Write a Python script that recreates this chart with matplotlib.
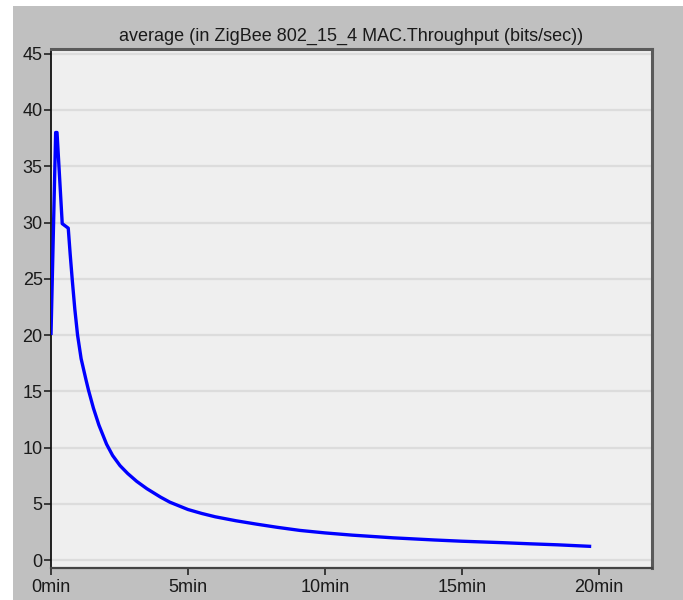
import matplotlib
matplotlib.use("Agg")
import matplotlib.pyplot as plt
from matplotlib.patches import Rectangle
from matplotlib.ticker import FuncFormatter

# Data (time in minutes, average throughput in bits/sec)
time_min = [0.0, 0.17, 0.22, 0.41, 0.63, 0.70, 0.78, 0.87, 0.97, 1.10, 1.28, 1.37,
            1.55, 1.75, 2.03, 2.25, 2.52, 2.80, 3.13, 3.50, 4.00, 4.34, 5.00, 5.50,
            6.00, 6.75, 7.50, 8.25, 9.09, 10.0, 11.0, 12.5, 14.0, 15.0, 16.5,
            17.5, 18.5, 19.73]
throughput = [20.0, 38.0, 38.0, 29.9, 29.5, 27.2, 24.8, 22.3, 20.0, 17.9, 16.0, 15.1,
              13.5, 12.0, 10.3, 9.3, 8.4, 7.7, 7.0, 6.35, 5.6, 5.15, 4.5, 4.15,
              3.85, 3.5, 3.2, 2.92, 2.64, 2.42, 2.22, 1.98, 1.79, 1.68, 1.55,
              1.45, 1.36, 1.22]

x_ticks = [0, 5, 10, 15, 20]
y_ticks = [0, 5, 10, 15, 20, 25, 30, 35, 40, 45]
title = "average (in ZigBee 802_15_4 MAC.Throughput (bits/sec))"

fam = ["Liberation Sans Narrow", "Liberation Sans", "DejaVu Sans"]

fig = plt.figure(figsize=(6.83, 6.0), dpi=100, facecolor="white")
fig.patches.append(Rectangle((13 / 683, 0), 1 - 13 / 683, (600 - 6) / 600,
                             transform=fig.transFigure, facecolor="#c0c0c0",
                             edgecolor="none", zorder=-10))

ax = fig.add_axes([51 / 683, 1 - 568 / 600, (652 - 51) / 683, (568 - 49) / 600])
ax.set_zorder(1)
ax.set_facecolor("#efefef")

for yv in y_ticks:
    ax.axhline(yv, color="#dcdcdc", lw=1.6, zorder=1)

ax.plot(time_min, throughput, color="#0000ff", lw=2.4, zorder=3,
        solid_joinstyle="round", solid_capstyle="butt")

ax.set_xlim(0, 21.95)
ax.set_ylim(-0.7, 45.42)
ax.set_xticks(x_ticks)
ax.set_yticks(y_ticks)
ax.xaxis.set_major_formatter(FuncFormatter(lambda v, p: f"{int(v)}min"))

ax.tick_params(axis="both", direction="out", length=5, width=1.2, color="#222222",
               labelsize=13, labelcolor="#1a1a1a")
ax.tick_params(axis="y", pad=1)
ax.tick_params(axis="x", pad=3)
for lab in ax.get_xticklabels() + ax.get_yticklabels():
    lab.set_family(fam)

ax.spines["left"].set_color("#111111")
ax.spines["left"].set_linewidth(1.3)
ax.spines["bottom"].set_color("#444444")
ax.spines["bottom"].set_linewidth(1.6)
ax.spines["top"].set_color("#5a5a5a")
ax.spines["top"].set_linewidth(2.2)
ax.spines["right"].set_color("#5a5a5a")
ax.spines["right"].set_linewidth(2.2)

ax.set_title(title, family=fam, fontsize=13, color="#1a1a1a", pad=6)

fig.savefig("out.png", dpi=100, facecolor="white")
